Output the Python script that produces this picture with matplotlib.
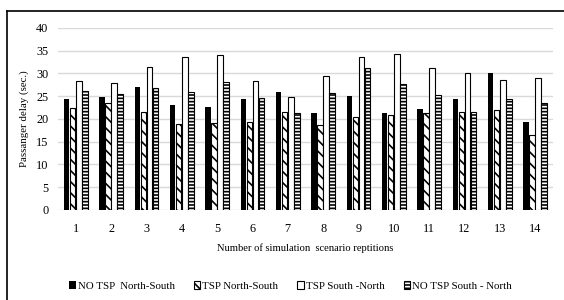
import numpy as np
import matplotlib
matplotlib.use("Agg")
from matplotlib import pyplot as plt
from matplotlib.lines import Line2D

plt.rcParams['font.family'] = ['Liberation Serif', 'DejaVu Serif']
plt.rcParams['hatch.linewidth'] = 1.2

# data
reps = [str(i) for i in range(1, 15)]
no_tsp_ns = [24.4, 24.8, 27.1, 23.1, 22.7, 24.4, 26.0, 21.2, 25.1, 21.2, 22.2, 24.4, 30.0, 19.3]
tsp_ns = [22.4, 23.6, 21.6, 18.9, 19.2, 19.4, 21.6, 18.6, 20.5, 20.9, 21.2, 21.6, 22.0, 16.4]
tsp_sn = [28.4, 27.8, 31.5, 33.5, 34.1, 28.4, 24.9, 29.5, 33.5, 34.3, 31.1, 30.0, 28.6, 28.9]
no_tsp_sn = [26.2, 25.4, 26.9, 26.0, 28.1, 24.7, 21.4, 25.8, 31.1, 27.7, 25.3, 21.6, 24.4, 23.5]
labels = ['NO TSP  North-South', 'TSP North-South', 'TSP South -North', 'NO TSP South - North']

fig = plt.figure(figsize=(5.64, 3.0), dpi=100)
ax = fig.add_axes([0.103, 0.30, 0.877, 0.607])

x = np.arange(len(reps))
w = 0.155
step = 0.172
series = [no_tsp_ns, tsp_ns, tsp_sn, no_tsp_sn]
styles = [dict(color='black'),
          dict(facecolor='white', edgecolor='black', hatch='\\\\\\'),
          dict(facecolor='white', edgecolor='black'),
          dict(facecolor='white', edgecolor='black', hatch='-----')]
for i, (vals, st) in enumerate(zip(series, styles)):
    ax.bar(x + (i - 1.5) * step, vals, w, linewidth=0.8, label=labels[i], zorder=3, **st)

ax.set_xlim(-0.5, len(reps) - 0.5)
ax.set_ylim(0, 40)
ax.set_yticks(range(0, 41, 5))
ax.set_xticks(x)
ax.set_xticklabels(reps)
ax.tick_params(length=0, labelsize=8.8)
ax.tick_params(axis='x', pad=9)
ax.tick_params(axis='y', pad=7)
ax.grid(axis='y', color='#d9d9d9', linewidth=1, zorder=0)
for s in ax.spines.values():
    s.set_visible(False)
ax.set_ylabel('Passanger delay (sec.)', fontsize=7.8, labelpad=5)
ax.set_xlabel('Number of simulation  scenario reptitions', fontsize=7.6, labelpad=6)

ax.legend(loc='upper center', bbox_to_anchor=(0.47, -0.335), ncol=4, frameon=False,
          fontsize=7.8, handlelength=0.6, handleheight=0.8, handletextpad=0.2,
          columnspacing=1.75)

# frame around the figure
fig.add_artist(Line2D([7 / 564, 7 / 564], [0, 1 - 11 / 300], color='black', lw=1.2, transform=fig.transFigure))
fig.add_artist(Line2D([7 / 564, 1], [1 - 11 / 300, 1 - 11 / 300], color='black', lw=1.2, transform=fig.transFigure))

fig.savefig('out.png', dpi=100)
